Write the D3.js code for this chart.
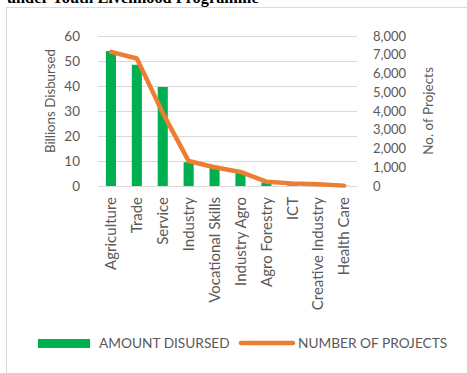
<!DOCTYPE html>
<html>
<head>
<meta charset="utf-8">
<script src="https://cdn.jsdelivr.net/npm/d3@7"></script>
<style>
  html, body { margin: 0; padding: 0; background: #fff; }
  svg { display: block; }
</style>
</head>
<body>
<svg id="chart" width="467" height="373"></svg>
<script>
// Youth Livelihood Programme: amount disbursed and number of projects per sector
const categories = ["Agriculture", "Trade", "Service", "Industry", "Vocational Skills",
  "Industry Agro", "Agro Forestry", "ICT", "Creative Industry", "Health Care"];
const amountDisbursed = [54, 48.5, 39.6, 9.5, 8.1, 5.8, 1.3, 0.3, 0.2, 0.1];   // billions
const numberOfProjects = [7150, 6800, 3900, 1330, 1000, 750, 230, 140, 90, 20];
const leftTicks = [0, 10, 20, 30, 40, 50, 60];
const rightTicks = [0, 1000, 2000, 3000, 4000, 5000, 6000, 7000, 8000];
const seriesNames = ["AMOUNT DISURSED", "NUMBER OF PROJECTS"];
const titleText = "under Youth Livelihood Programme";

const W = 467, H = 373;
const plot = { left: 98, right: 357, top: 36, bottom: 186 };
const textColor = "#595959";
const font = "Lato, 'Open Sans', sans-serif";
const barColor = "#00B050", lineColor = "#ED7D31", gridColor = "#D9D9D9";

const svg = d3.select("#chart");

// caption above the frame (partly cut off by the top edge)
svg.append("text")
  .attr("x", 7).attr("y", 3)
  .attr("font-family", "'Liberation Serif', 'Times New Roman', serif")
  .attr("font-weight", "bold").attr("font-size", 16.3)
  .attr("fill", "#000")
  .text(titleText);

// chart frame
svg.append("rect")
  .attr("x", 6.5).attr("y", 7.5).attr("width", W + 10).attr("height", H + 10)
  .attr("fill", "none").attr("stroke", gridColor).attr("stroke-width", 1);

const x = d3.scaleBand().domain(categories)
  .range([plot.left, plot.right]).paddingInner(0.61).paddingOuter(0.305);
const yLeft = d3.scaleLinear().domain([0, 60]).range([plot.bottom, plot.top]);
const yRight = d3.scaleLinear().domain([0, 8000]).range([plot.bottom, plot.top]);

// gridlines
svg.append("g").selectAll("line").data(leftTicks).join("line")
  .attr("x1", plot.left).attr("x2", plot.right)
  .attr("y1", d => Math.round(yLeft(d)) + 0.5).attr("y2", d => Math.round(yLeft(d)) + 0.5)
  .attr("stroke", gridColor).attr("stroke-width", 1);

// left axis
const leftAxis = svg.append("g")
  .attr("transform", `translate(${plot.left - 18},0)`)
  .call(d3.axisLeft(yLeft).tickValues(leftTicks).tickSize(0).tickPadding(0));
leftAxis.select(".domain").remove();
leftAxis.selectAll("text").attr("font-family", font).attr("font-size", 13.5)
  .attr("fill", textColor);

// right axis
const rightAxis = svg.append("g")
  .attr("transform", `translate(${plot.right + 16},0)`)
  .call(d3.axisRight(yRight).tickValues(rightTicks).tickSize(0).tickPadding(0)
    .tickFormat(d3.format(",")));
rightAxis.select(".domain").remove();
rightAxis.selectAll("text").attr("font-family", font).attr("font-size", 13)
  .attr("fill", textColor);

// axis titles
svg.append("text")
  .attr("transform", `translate(55,${(plot.top + plot.bottom) / 2 - 10}) rotate(-90)`)
  .attr("text-anchor", "middle")
  .attr("font-family", font).attr("font-size", 13.3).attr("fill", textColor)
  .text("Billions Disbursed");
svg.append("text")
  .attr("transform", `translate(433,${(plot.top + plot.bottom) / 2}) rotate(-90)`)
  .attr("text-anchor", "middle")
  .attr("font-family", font).attr("font-size", 13.5).attr("fill", textColor)
  .text("No. of Projects");

// category labels
const xAxis = svg.append("g")
  .attr("transform", `translate(0,${plot.bottom})`)
  .call(d3.axisBottom(x).tickSize(0).tickPadding(0));
xAxis.select(".domain").remove();
xAxis.selectAll("text")
  .attr("font-family", font).attr("font-size", 15).attr("fill", textColor)
  .attr("text-anchor", "end")
  .attr("dy", "0.35em")
  .attr("transform", "translate(0,11) rotate(-90)")
  .attr("x", 0).attr("y", 0);

// bars
svg.append("g").selectAll("rect").data(categories).join("rect")
  .attr("x", d => x(d))
  .attr("width", x.bandwidth())
  .attr("y", (d, i) => yLeft(amountDisbursed[i]))
  .attr("height", (d, i) => plot.bottom - yLeft(amountDisbursed[i]))
  .attr("fill", barColor);

// project count line
const line = d3.line()
  .x((d, i) => x(categories[i]) + x.bandwidth() / 2)
  .y(d => yRight(d));
svg.append("path").datum(numberOfProjects)
  .attr("d", line)
  .attr("fill", "none").attr("stroke", lineColor)
  .attr("stroke-width", 4.5).attr("stroke-linejoin", "round").attr("stroke-linecap", "round");

// legend
const legend = svg.append("g").attr("font-family", font).attr("font-size", 13.7).attr("fill", textColor);
legend.append("rect").attr("x", 38).attr("y", 339).attr("width", 52).attr("height", 9)
  .attr("fill", barColor);
legend.append("text").attr("x", 99).attr("y", 343.5).attr("dy", "0.35em").text(seriesNames[0]);
legend.append("line").attr("x1", 241).attr("x2", 293).attr("y1", 343).attr("y2", 343)
  .attr("stroke", lineColor).attr("stroke-width", 4.5).attr("stroke-linecap", "round");
legend.append("text").attr("x", 298).attr("y", 343.5).attr("dy", "0.35em").text(seriesNames[1]);
</script>
</body>
</html>
